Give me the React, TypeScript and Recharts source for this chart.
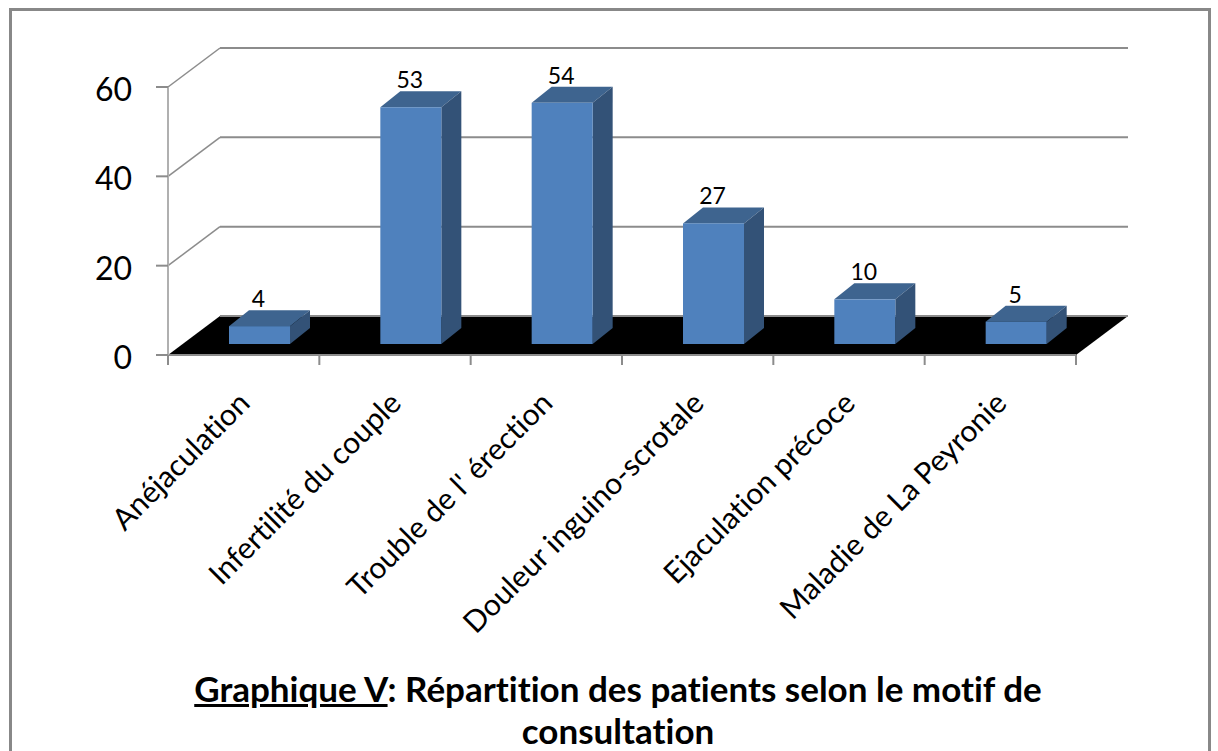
import { BarChart, Bar, XAxis, YAxis, CartesianGrid, LabelList } from "recharts";

const categories = [
  "Anéjaculation",
  "Infertilité du couple",
  "Trouble de l' érection",
  "Douleur inguino-scrotale",
  "Ejaculation précoce",
  "Maladie de La Peyronie",
];
const patients = [4, 53, 54, 27, 10, 5];
const yTicks = [0, 20, 40, 60];

const data = categories.map((name, i) => ({ name, patients: patients[i] }));

const FONT = "Lato, sans-serif";
const AXIS_GREY = "#8c8c8c";
// perspective of the back wall, and of the bars standing on the floor
const WALL_DX = 52;
const WALL_DY = -39;
const BAR_SHIFT_X = 16;
const BAR_SHIFT_Y = -11;
const BAR_DX = 20;
const BAR_DY = -16;

function WallLine(props: any) {
  const { x1, x2, y1 } = props;
  const isFloor = y1 > 350;
  return (
    <g>
      {isFloor && (
        <polygon
          points={`${x1},${y1} ${x1 + WALL_DX},${y1 + WALL_DY} ${x2 + WALL_DX},${y1 + WALL_DY} ${x2},${y1}`}
          fill="#000"
        />
      )}
      {!isFloor && <line x1={x1} y1={y1} x2={x1 + WALL_DX} y2={y1 + WALL_DY} stroke={AXIS_GREY} strokeWidth={1.5} />}
      <line x1={x1 + WALL_DX} y1={y1 + WALL_DY} x2={x2 + WALL_DX} y2={y1 + WALL_DY} stroke={AXIS_GREY} strokeWidth={2} />
    </g>
  );
}

function Bar3D(props: any) {
  const { x, y, width, height } = props;
  const l = x + BAR_SHIFT_X;
  const t = y + BAR_SHIFT_Y;
  const r = l + width;
  const b = t + height;
  return (
    <g>
      <polygon points={`${l},${t} ${l + BAR_DX},${t + BAR_DY} ${r + BAR_DX},${t + BAR_DY} ${r},${t}`} fill="#3e648f" />
      <polygon points={`${r},${t} ${r + BAR_DX},${t + BAR_DY} ${r + BAR_DX},${b + BAR_DY} ${r},${b}`} fill="#335277" />
      <rect x={l} y={t} width={width} height={height} fill="#4f81bd" />
    </g>
  );
}

function ValueLabel(props: any) {
  const { x, y, width, value } = props;
  return (
    <text x={x + width / 2 + 15} y={y - 30} textAnchor="middle" fontSize={23} fontFamily={FONT} fill="#000">
      {value}
    </text>
  );
}

function CategoryTick(props: any) {
  const { x, y, payload, index, width } = props;
  const step = width / categories.length;
  return (
    <g>
      <line x1={x - step / 2} y1={y - 8} x2={x - step / 2} y2={y + 2} stroke={AXIS_GREY} strokeWidth={2} />
      {index === categories.length - 1 && (
        <line x1={x + step / 2} y1={y - 8} x2={x + step / 2} y2={y + 2} stroke={AXIS_GREY} strokeWidth={2} />
      )}
      <text
        x={x + 8}
        y={y + 42}
        textAnchor="end"
        fontSize={30}
        fontFamily={FONT}
        fill="#000"
        style={{ fontVariantLigatures: "none" }}
        transform={`rotate(-45 ${x + 8} ${y + 42})`}
      >
        {payload.value}
      </text>
    </g>
  );
}

function ValueTick(props: any) {
  const { x, y, payload } = props;
  return (
    <text x={x} y={y + 14} textAnchor="end" fontSize={32} fontFamily={FONT} fill="#000">
      {payload.value}
    </text>
  );
}

export default function App() {
  return (
    <div style={{ position: "absolute", left: 0, top: 0, width: 1218, height: 751, background: "#fff", overflow: "hidden" }}>
      <div
        style={{
          position: "absolute",
          left: 9,
          top: 8,
          width: 1196,
          height: 760,
          border: "3px solid #888",
        }}
      />
      <div style={{ position: "absolute", left: 0, top: 0 }}>
        <BarChart
          width={1218}
          height={751}
          data={data}
          margin={{ top: 87, right: 142, bottom: 196, left: 108 }}
          barSize={61}
        >
          <CartesianGrid vertical={false} horizontal={(p: any) => <WallLine key={p.key ?? p.y1} {...p} />} />
          <XAxis
            dataKey="name"
            interval={0}
            height={200}
            tickLine={false}
            axisLine={{ stroke: AXIS_GREY, strokeWidth: 2 }}
            tick={<CategoryTick />}
          />
          <YAxis
            width={60}
            domain={[0, 60]}
            ticks={yTicks}
            tickSize={12}
            tickMargin={24}
            axisLine={{ stroke: "#b0b0b0", strokeWidth: 2 }}
            tickLine={{ stroke: AXIS_GREY, strokeWidth: 2 }}
            tick={<ValueTick />}
          />
          <Bar dataKey="patients" isAnimationActive={false} shape={<Bar3D />}>
            <LabelList dataKey="patients" content={<ValueLabel />} />
          </Bar>
        </BarChart>
      </div>
      <div
        style={{
          position: "absolute",
          left: 0,
          width: 1236,
          top: 667,
          textAlign: "center",
          fontFamily: FONT,
          fontWeight: 700,
          fontSize: 35,
          lineHeight: "42px",
          color: "#000",
          fontVariantLigatures: "none",
        }}
      >
        <u>Graphique V</u>: Répartition des patients selon le motif de
        <br />
        consultation
      </div>
    </div>
  );
}
